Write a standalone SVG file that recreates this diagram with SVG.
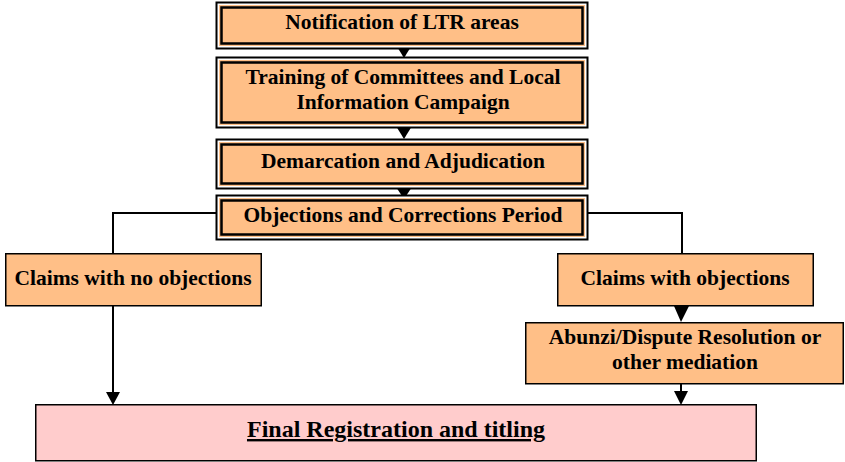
<svg xmlns="http://www.w3.org/2000/svg" width="845" height="462" viewBox="0 0 845 462">
<style>
.t{font-family:"Liberation Serif","Times New Roman",serif;font-weight:bold;font-size:21.5px;fill:#000;text-anchor:middle}
.outer{fill:#fff;stroke:#000;stroke-width:2}
.band{fill:#FFBF87;stroke:none}
.inner{fill:#FFBF87;stroke:#000;stroke-width:2.5}
.box{fill:#FFBF87;stroke:#000;stroke-width:1.5}
.fin{fill:#FFCCCC;stroke:#000;stroke-width:1.5}
.ln{fill:none;stroke:#000;stroke-width:2}
.ah{fill:#000}
</style>
<g id="connectors">
<polygon class="ah" points="396,45 412,45 404,58"/>
<polygon class="ah" points="396,126 412,126 404,139"/>
<polygon class="ah" points="396,187 412,187 404,199"/>
<polyline class="ln" points="217,213 113,213 113,253"/>
<polyline class="ln" points="587,213 682,213 682,253"/>
<line class="ln" x1="113" y1="306" x2="113" y2="394"/>
<polygon class="ah" points="106,392 120,392 113,405"/>
<polygon class="ah" points="674,306 689,306 681,322"/>
<line class="ln" x1="681" y1="384" x2="681" y2="394"/>
<polygon class="ah" points="674,391 688,391 681,405"/>
</g>
<g id="n1">
<rect class="outer" x="216.5" y="2.5" width="371" height="46"/>
<rect class="band" x="219" y="5" width="366" height="41"/>
<rect class="inner" x="221.5" y="7.5" width="361" height="36"/>
<text class="t" x="402" y="29">Notification of LTR areas</text>
</g>
<g id="n2">
<rect class="outer" x="216.5" y="57.5" width="371" height="70"/>
<rect class="band" x="219" y="60" width="366" height="65"/>
<rect class="inner" x="221.5" y="62.5" width="361" height="60"/>
<text class="t" x="403" y="84">Training of Committees and Local</text>
<text class="t" x="403" y="109">Information Campaign</text>
</g>
<g id="n3">
<rect class="outer" x="216.5" y="139.5" width="371" height="49"/>
<rect class="band" x="219" y="142" width="366" height="44"/>
<rect class="inner" x="221.5" y="144.5" width="361" height="39"/>
<text class="t" x="403" y="168">Demarcation and Adjudication</text>
</g>
<g id="n4">
<rect class="outer" x="216.5" y="195.5" width="371" height="44"/>
<rect class="band" x="219" y="198" width="366" height="39"/>
<rect class="inner" x="221.5" y="200.5" width="361" height="34"/>
<text class="t" x="403" y="222">Objections and Corrections Period</text>
</g>
<g id="n5">
<rect class="box" x="5.75" y="253.75" width="255.5" height="52"/>
<text class="t" x="133" y="285">Claims with no objections</text>
</g>
<g id="n6">
<rect class="box" x="557.75" y="253.75" width="255.5" height="52"/>
<text class="t" x="685" y="285">Claims with objections</text>
</g>
<g id="n7">
<rect class="box" x="525.75" y="322.75" width="317.5" height="61"/>
<text class="t" x="685" y="344">Abunzi/Dispute Resolution or</text>
<text class="t" x="685" y="369">other mediation</text>
</g>
<g id="n8">
<rect class="fin" x="35.75" y="404.75" width="720.5" height="56"/>
<text class="t" x="396" y="437" style="font-size:24px" text-decoration="underline">Final Registration and titling</text>
</g>
</svg>
